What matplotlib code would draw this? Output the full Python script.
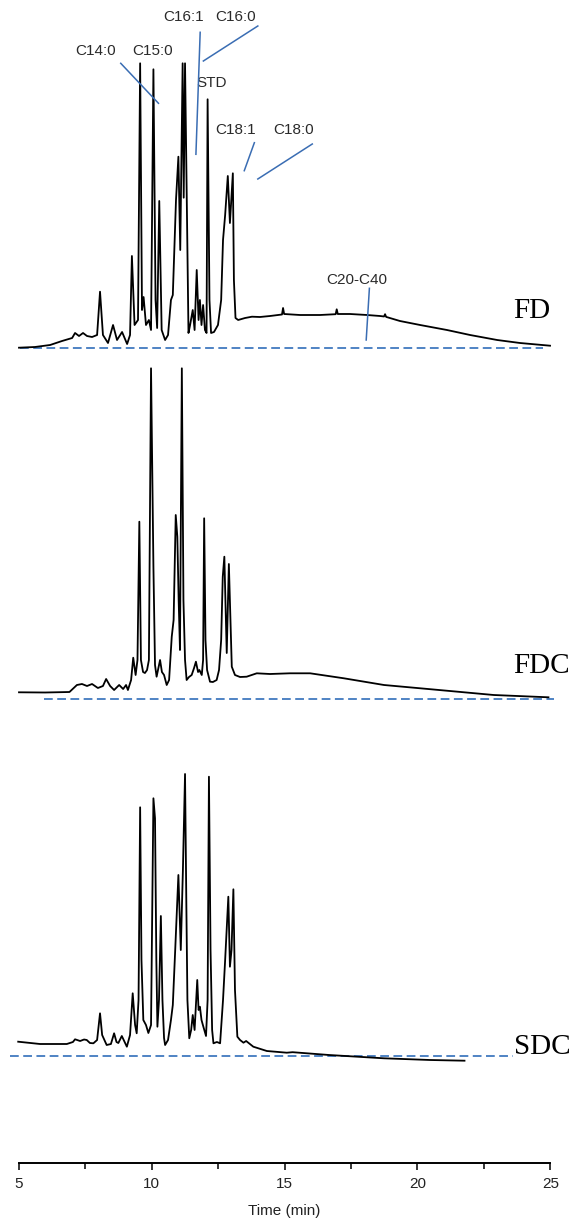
import matplotlib.pyplot as plt
from matplotlib.ticker import MultipleLocator

# retention time (min) and detector response above each dashed baseline
fd_time = [5.00, 5.60, 6.17, 6.62, 7.00, 7.11, 7.26, 7.41, 7.56, 7.75, 7.94, 8.05, 8.16, 8.35,
           8.54, 8.69, 8.88, 9.07, 9.18, 9.25, 9.35, 9.48, 9.56, 9.63, 9.69, 9.78, 9.89, 9.97,
           10.06, 10.14, 10.20, 10.28, 10.37, 10.50, 10.61, 10.72, 10.79, 10.91, 11.00, 11.07,
           11.16, 11.20, 11.25, 11.38, 11.44, 11.54, 11.61, 11.69, 11.76, 11.81, 11.87, 11.93,
           12.00, 12.06, 12.10, 12.17, 12.23, 12.34, 12.49, 12.61, 12.68, 12.76, 12.86, 12.94,
           13.05, 13.09, 13.15, 13.25, 13.51, 13.77, 14.07, 14.45, 14.75, 14.90, 14.94, 14.98,
           15.58, 16.33, 16.92, 16.96, 17.00, 17.46, 18.10, 18.59, 18.74, 18.78, 18.82, 19.34,
           20.10, 21.11, 21.98, 23.00, 23.86, 24.99]
fd_signal = [0, 0.7, 2.7, 6.7, 9.7, 14.7, 11.7, 14.7, 11.7, 10.7, 12.7, 56, 12.7, 4.7,
             22.7, 7.7, 15.7, 3.7, 12.7, 91.7, 22.7, 27.7, 284.4, 37.7, 50.7, 22.7, 27.7, 17.7,
             278.4, 47.7, 19.7, 146.7, 17.7, 7.7, 12.7, 47.7, 52.7, 147.7, 191, 97.7,
             284.4, 150, 284.4, 14.7, 22.7, 37.7, 17.7, 77.7, 27.7, 47.7, 22.7, 42.7,
             17.7, 14.7, 248.4, 47.7, 14.7, 15.7, 22.7, 47.7, 107.7, 132.7, 171.7, 124.7,
             174.4, 67.7, 29.7, 27.7, 29.7, 31, 30.7, 31.7, 32.7, 33.2, 39.7, 33.7,
             32.7, 32.7, 33.5, 38.4, 33.7, 33.7, 32.7, 31.7, 31.2, 33.5, 30.8, 26.7,
             22.7, 17.7, 12.7, 7.7, 4.7, 2]

fdc_time = [5.00, 5.98, 6.90, 7.18, 7.37, 7.56, 7.75, 7.97, 8.16, 8.28, 8.43, 8.58, 8.77, 8.92,
            9.03, 9.10, 9.22, 9.30, 9.39, 9.46, 9.53, 9.59, 9.67, 9.74, 9.82, 9.89, 9.97, 10.06,
            10.12, 10.18, 10.31, 10.38, 10.46, 10.56, 10.65, 10.75, 10.82, 10.90, 10.96, 11.01,
            11.06, 11.13, 11.19, 11.25, 11.31, 11.40, 11.50, 11.59, 11.66, 11.74, 11.79, 11.88,
            11.93, 11.97, 12.02, 12.08, 12.19, 12.30, 12.44, 12.53, 12.61, 12.67, 12.73, 12.77,
            12.82, 12.90, 12.96, 13.01, 13.13, 13.32, 13.57, 13.95, 14.45, 15.20, 15.96, 17.23,
            18.74, 20.81, 22.87, 24.93]
fdc_signal = [6.7, 6.5, 7, 14, 15, 13, 15, 11, 13, 20, 13, 9, 14, 10,
              14, 9, 19, 41.3, 24, 39, 177.3, 39, 27, 26, 29, 39, 330.7, 132.3,
              34, 22.3, 39, 27, 24, 14, 19, 62.3, 79, 184, 162.3, 99,
              49, 330.7, 99, 39, 19, 22, 24, 31, 37.3, 27, 29, 24,
              39, 180.7, 59, 29, 17.3, 17, 19, 29, 59, 122.3, 142.3, 99,
              46, 135, 79, 32.3, 24, 22, 22.3, 25.7, 25, 25.7, 25.7, 20.7,
              14, 9, 4, 1.7]

sdc_time = [4.97, 5.79, 6.80, 7.03, 7.11, 7.30, 7.45, 7.55, 7.67, 7.80, 7.94, 8.05, 8.13, 8.30,
            8.46, 8.58, 8.67, 8.74, 8.87, 9.06, 9.18, 9.28, 9.37, 9.43, 9.50, 9.56, 9.61, 9.68,
            9.78, 9.87, 9.97, 10.06, 10.12, 10.17, 10.21, 10.27, 10.34, 10.40, 10.46, 10.50,
            10.61, 10.72, 10.79, 10.88, 11.00, 11.09, 11.17, 11.25, 11.30, 11.34, 11.41, 11.48,
            11.54, 11.61, 11.71, 11.76, 11.81, 11.87, 11.94, 12.04, 12.10, 12.15, 12.21, 12.27,
            12.32, 12.45, 12.57, 12.68, 12.76, 12.88, 12.94, 13.00, 13.07, 13.13, 13.22, 13.32,
            13.45, 13.55, 13.82, 14.33, 15.08, 15.30, 16.67, 18.74, 20.47, 21.77]
sdc_signal = [14, 11.7, 11.7, 13.7, 16.4, 14.7, 16.2, 15.7, 12.7, 12.4, 15.7, 42.4, 20.7, 10.7,
              11.7, 22.4, 13.7, 12.7, 19.7, 9, 20.7, 62.4, 30.7, 22.4, 55.7, 248.4, 95.7, 35.7,
              30.7, 22.7, 30.7, 257.4, 237.4, 95.7, 29, 55.7, 139.7, 55.7, 17.7, 10.7,
              15.7, 35.7, 50.7, 105.7, 180.7, 105.7, 185.7, 281.7, 150, 55.7, 17.4, 25.7,
              40.7, 25.7, 75.7, 45.7, 49, 35.7, 29, 19.7, 55.7, 279, 105.7, 25.7,
              12.4, 13.7, 12.4, 55.7, 95.7, 159, 89, 105.7, 166.4, 65.7, 19, 15.7,
              13, 14.7, 9, 4.7, 3, 3.5, 0.7, -2.6, -4.3, -5]

samples = ['FD', 'FDC', 'SDC']
traces = {'FD': (fd_time, fd_signal), 'FDC': (fdc_time, fdc_signal), 'SDC': (sdc_time, sdc_signal)}

# layout: vertical offset of each trace, dashed baseline span, sample label position
offset = {'FD': 815.6, 'FDC': 464.3, 'SDC': 107.6}
dash_span = {'FD': (5.04, 24.73), 'FDC': (5.94, 25.14), 'SDC': (4.66, 23.6)}
name_pos = {'FD': (24.99, 36.7), 'FDC': (25.75, 33.0), 'SDC': (25.75, 8.7)}

peak_names = ['C14:0', 'C15:0', 'C16:1', 'C16:0', 'STD', 'C18:1', 'C18:0', 'C20-C40']
peak_text_t = [7.89, 10.03, 11.18, 13.14, 12.26, 13.16, 15.32, 17.72]
peak_text_y = [1112.6, 1112.6, 1146, 1146, 1080, 1033.3, 1033.3, 883.3]
leader_lines = [((8.83, 1100), (10.25, 1060)), None, ((11.82, 1131), (11.66, 1009)),
                ((13.99, 1137.3), (11.94, 1102.3)), None, ((13.86, 1020.6), (13.48, 992.6)),
                ((16.04, 1019.3), (13.99, 984.3)), ((18.19, 875), (18.07, 823.3))]

dash_color = '#4f83c4'
leader_color = '#3a6db3'

fig = plt.figure(figsize=(5.73, 12.31), dpi=100)
ax = fig.add_axes([19 / 573, 67.7 / 1231, 531.3 / 573, 1163.3 / 1231])
ax.set_xlim(5, 25)
ax.set_ylim(0, 1163.3)

for s in samples:
    t, sig = traces[s]
    ax.plot(t, [v + offset[s] for v in sig], color='black', lw=1.3, clip_on=False, zorder=3)
    ax.plot(dash_span[s], [offset[s], offset[s]], color=dash_color, lw=1.4,
            dashes=(4.5, 2.3), clip_on=False, zorder=2)
    nx, ny = name_pos[s]
    ax.text(nx, offset[s] + ny, s, ha='right', va='center', fontsize=21,
            family='Liberation Serif', color='black', clip_on=False)

for name, tx, ty, seg in zip(peak_names, peak_text_t, peak_text_y, leader_lines):
    ax.text(tx, ty, name, ha='center', va='center', fontsize=11,
            family='Liberation Sans', color='#2a2a2a')
    if seg is not None:
        (x0, y0), (x1, y1) = seg
        ax.plot([x0, x1], [y0, y1], color=leader_color, lw=1.1, zorder=4)

for side in ['top', 'left', 'right']:
    ax.spines[side].set_visible(False)
ax.spines['bottom'].set_linewidth(1.4)
ax.set_yticks([])
ax.xaxis.set_major_locator(MultipleLocator(5))
ax.xaxis.set_minor_locator(MultipleLocator(2.5))
ax.tick_params(axis='x', which='major', length=5, width=1.1, pad=5, labelsize=11,
               labelcolor='#222222')
ax.tick_params(axis='x', which='minor', length=4, width=1.1)
for lab in ax.get_xticklabels():
    lab.set_family('Liberation Sans')
ax.set_xlabel('Time (min)', fontsize=11, family='Liberation Sans', color='#222222', labelpad=9)

fig.savefig('out.png', dpi=100)
